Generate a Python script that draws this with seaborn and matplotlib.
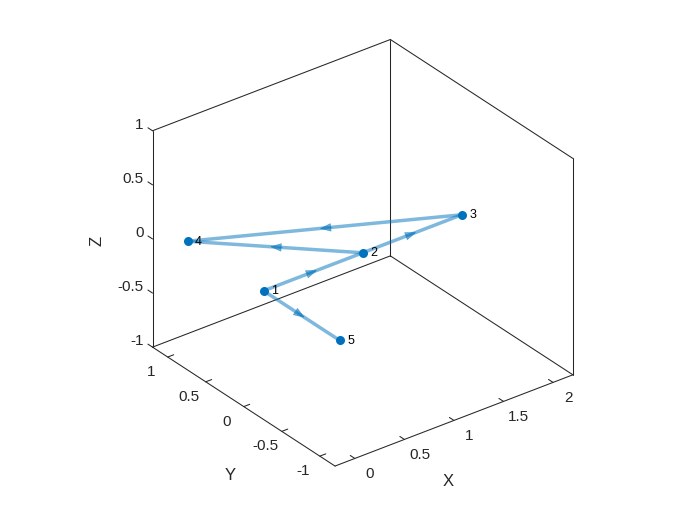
import numpy as np
import matplotlib
matplotlib.use('Agg')
import matplotlib.pyplot as plt
import seaborn as sns
from matplotlib.patches import FancyArrowPatch
from mpl_toolkits.mplot3d import proj3d

# Node coordinates (all nodes lie in the z = 0 plane)
node_x = [0, 1, 2, 0, 0]
node_y = [0, 0, 0, 1, -1]
node_z = [0, 0, 0, 0, 0]
node_labels = ['1', '2', '3', '4', '5']

# Directed edges, 1-based node ids
edge_src = [1, 1, 2, 2, 3]
edge_dst = [2, 5, 3, 4, 4]

# Axis limits and ticks
x_lim = (-0.2, 2.2)
y_lim = (-1.2, 1.2)
z_lim = (-1, 1)
x_ticks = [0, 0.5, 1, 1.5, 2]
y_ticks = [-1, -0.5, 0, 0.5, 1]
z_ticks = [-1, -0.5, 0, 0.5, 1]

sns.set_theme(style='white')
plt.rcParams['font.family'] = ['Liberation Sans', 'DejaVu Sans']

node_color = '#0072BD'
edge_color = (0, 0.447, 0.741)
axis_color = '#262626'


class Arrow3D(FancyArrowPatch):
    def __init__(self, xs, ys, zs, *args, **kwargs):
        super().__init__((0, 0), (0, 0), *args, **kwargs)
        self._verts3d = xs, ys, zs

    def do_3d_projection(self, renderer=None):
        xs3d, ys3d, zs3d = self._verts3d
        xs, ys, zs = proj3d.proj_transform(xs3d, ys3d, zs3d, self.axes.M)
        self.set_positions((xs[0], ys[0]), (xs[1], ys[1]))
        return np.min(zs)


fig = plt.figure(figsize=(7, 5.25), dpi=100)
ax = fig.add_axes([0.008, 0.005, 1, 1], projection='3d', proj_type='ortho')
ax.computed_zorder = False
ax.set_xlim(*x_lim)
ax.set_ylim(*y_lim)
ax.set_zlim(*z_lim)
ax.set_box_aspect((x_lim[1] - x_lim[0], y_lim[1] - y_lim[0], z_lim[1] - z_lim[0]), zoom=0.91)
ax.view_init(elev=30, azim=-127.5)
ax.set_axis_off()

x0, x1 = x_lim
y0, y1 = y_lim
z0, z1 = z_lim

# box edges (MATLAB style "back" box)
box_edges = [
    ((x0, x0), (y1, y1), (z0, z1)),
    ((x1, x1), (y1, y1), (z0, z1)),
    ((x1, x1), (y0, y0), (z0, z1)),
    ((x0, x1), (y1, y1), (z1, z1)),
    ((x1, x1), (y0, y1), (z1, z1)),
    ((x0, x0), (y0, y1), (z0, z0)),
    ((x0, x1), (y0, y0), (z0, z0)),
    ((x0, x1), (y1, y1), (z0, z0)),
    ((x1, x1), (y0, y1), (z0, z0)),
]
for ex, ey, ez in box_edges:
    ax.plot(ex, ey, ez, color=axis_color, lw=0.75, zorder=1)

tl = 0.06
for t in x_ticks:
    ax.plot([t, t], [y0, y0 + tl], [z0, z0], color=axis_color, lw=0.75, zorder=1)
for t in y_ticks:
    ax.plot([x0, x0 + tl], [t, t], [z0, z0], color=axis_color, lw=0.75, zorder=1)
for t in z_ticks:
    ax.plot([x0, x0], [y1, y1 + tl], [t, t], color=axis_color, lw=0.75, zorder=1)

# edges with arrowheads at the midpoint
for s, d in zip(edge_src, edge_dst):
    xs = [node_x[s - 1], node_x[d - 1]]
    ys = [node_y[s - 1], node_y[d - 1]]
    zs = [node_z[s - 1], node_z[d - 1]]
    ax.plot(xs, ys, zs, color=edge_color, alpha=0.5, lw=2.5,
            solid_capstyle='butt', zorder=2)
    dx, dy, dz = xs[1] - xs[0], ys[1] - ys[0], zs[1] - zs[0]
    n = np.sqrt(dx ** 2 + dy ** 2 + dz ** 2)
    mx, my, mz = np.mean(xs), np.mean(ys), np.mean(zs)
    a0, a1 = -0.06 / n, 0.04 / n
    arr = Arrow3D([mx + a0 * dx, mx + a1 * dx], [my + a0 * dy, my + a1 * dy],
                  [mz + a0 * dz, mz + a1 * dz],
                  arrowstyle='-|>,head_length=0.8,head_width=0.3',
                  mutation_scale=9, shrinkA=0, shrinkB=0, lw=0.5,
                  color=edge_color, alpha=0.55, zorder=3)
    ax.add_artist(arr)

# nodes
ax.plot(node_x, node_y, node_z, 'o', color=node_color, markersize=6.5,
        markeredgewidth=0, zorder=4)

# texts: project the 3D anchor points once the view matrix exists
fig.canvas.draw()


def text3(x, y, z, s, **kw):
    px, py, _ = proj3d.proj_transform(x, y, z, ax.M)
    return ax.text2D(px, py, s, transform=ax.transData, **kw)


fs_tick = 11
for t in x_ticks:
    text3(t, y0 - 0.2, z0 - 0.05, f'{t:g}', ha='center', va='center',
          fontsize=fs_tick, color=axis_color)
for t in y_ticks:
    text3(x0 - 0.17, t, z0 - 0.08, f'{t:g}', ha='center', va='center',
          fontsize=fs_tick, color=axis_color)
for t in z_ticks:
    text3(x0, y1 + 0.12, t, f'{t:g}', ha='right', va='center',
          fontsize=fs_tick, color=axis_color)

text3(0.37, -1.95, z0, 'X', ha='center', va='center', fontsize=12, color=axis_color)
text3(-0.955, -0.81, z0, 'Y', ha='center', va='center', fontsize=12, color=axis_color)
text3(-0.76, y1, 0.18, 'Z', ha='center', va='center', fontsize=12,
      color=axis_color, rotation=90)

for x, y, z, lab in zip(node_x, node_y, node_z, node_labels):
    text3(x + 0.045, y - 0.04, z, lab, ha='left', va='center', fontsize=9,
          color='black', zorder=5)

fig.savefig('out.png', dpi=100)
